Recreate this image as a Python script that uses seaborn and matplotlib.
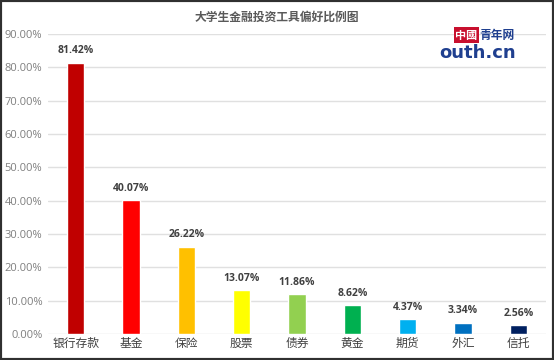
import matplotlib
matplotlib.use("Agg")
import pandas as pd
import matplotlib.pyplot as plt
import seaborn as sns
from matplotlib.patches import Rectangle

# === DATA ===
categories = ["银行存款", "基金", "保险", "股票", "债券", "黄金", "期货", "外汇", "信托"]
values = [81.42, 40.07, 26.22, 13.07, 11.86, 8.62, 4.37, 3.34, 2.56]
colors = ["#C00000", "#FF0000", "#FFC000", "#FFFF00", "#92D050",
          "#00B050", "#00B0F0", "#0070C0", "#002060"]
yticks = [0, 10, 20, 30, 40, 50, 60, 70, 80, 90]

df = pd.DataFrame({"cat": categories, "val": values})

sns.set_style("white")
plt.rcParams['font.family'] = ['Noto Sans CJK SC', 'DejaVu Sans']

fig = plt.figure(figsize=(5.54, 3.6), dpi=100)
ax = fig.add_axes([48 / 554, 26 / 360, 498 / 554, 300 / 360])

sns.barplot(data=df, x="cat", y="val", hue="cat", palette=colors,
            width=0.31, legend=False, ax=ax, saturation=1)

ax.set_ylim(0, 90)
ax.set_xlim(-0.5, len(categories) - 0.5)
ax.set_yticks(yticks)
ax.set_yticklabels([f"{t:.2f}%" for t in yticks], color="#7F7F7F", fontsize=8,
                   family=['Open Sans', 'DejaVu Sans'])
ax.tick_params(axis="x", colors="#404040", labelsize=8.5, length=0, pad=2)
ax.tick_params(axis="y", length=0, pad=4)
ax.set_xlabel("")
ax.set_ylabel("")
ax.yaxis.grid(True, color="#E0E0E0", linewidth=1)
ax.set_axisbelow(True)
for s in ax.spines.values():
    s.set_visible(False)

for i, v in enumerate(values):
    ax.text(i, v + 2, f"{v:.2f}%", ha="center", va="bottom", fontsize=7.5,
            fontweight="bold", color="#404040", family=['Open Sans', 'DejaVu Sans'])

fig.text(0.5, 1 - 17 / 360, "大学生金融投资工具偏好比例图", ha="center", va="center",
         fontsize=8.5, fontweight="bold", color="#595959")

# logo text
fig.text(0.822, 1 - 35 / 360, "中國", ha="left", va="center", fontsize=8,
         color="white", fontweight="bold",
         bbox=dict(boxstyle="square,pad=0.1", fc="#C8102E", ec="none"))
fig.text(0.866, 1 - 35 / 360, "青年网", ha="left", va="center", fontsize=8.5,
         color="#1F3F8F", fontweight="bold")
fig.text(0.932, 1 - 53 / 360, "outh.cn", ha="right", va="center", fontsize=13,
         color="#1F3F8F", fontweight="bold", family=['DejaVu Sans'])

fig.patches.append(Rectangle((0, 0), 1, 1, transform=fig.transFigure,
                             fill=False, ec="#303030", lw=3))

fig.savefig("out.png", dpi=100)
